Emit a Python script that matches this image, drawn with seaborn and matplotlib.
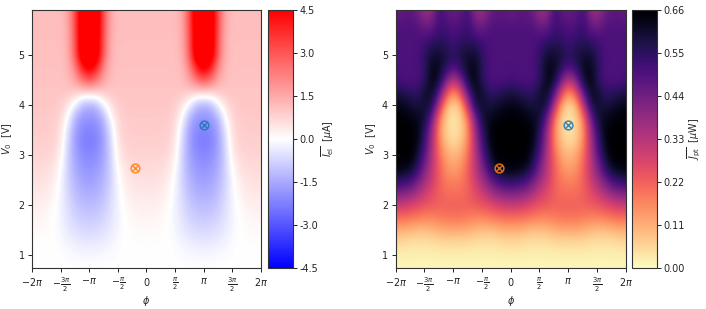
import numpy as np
import matplotlib
matplotlib.use("Agg")
import matplotlib.pyplot as plt
import seaborn as sns

sns.set_style("ticks")
plt.rcParams['font.family'] = ['DejaVu Sans']
plt.rcParams['mathtext.fontset'] = 'dejavusans'
plt.rcParams['axes.edgecolor'] = '#333333'
plt.rcParams['xtick.color'] = '#222222'
plt.rcParams['ytick.color'] = '#222222'
FS = 6.9

# grid coordinates (phi in units of pi/8, V0 in volts)
phi_values = [k * np.pi / 8 for k in range(-16, 17)]
v0_values = [0.75, 1.0, 1.25, 1.5, 1.75, 2.0, 2.25, 2.5, 2.75, 3.0, 3.25,
             3.5, 3.75, 4.0, 4.25, 4.5, 4.75, 5.0, 5.25, 5.5, 5.75, 6.0]

# mean electric current  [uA]  (rows follow v0_values, columns follow phi_values)
iel_grid = [
    [0, 0, 0, 0, 0, -.01, -.02, -.03, -.03, -.03, -.02, -.01, 0, 0, 0, 0, 0, 0, 0, 0, 0, -.01, -.02, -.03, -.03, -.03, -.02, -.01, 0, 0, 0, 0, 0],
    [.01, .01, .01, 0, -.03, -.07, -.10, -.14, -.15, -.14, -.10, -.07, -.03, 0, .01, .01, .01, .01, .01, 0, -.03, -.07, -.10, -.14, -.15, -.14, -.10, -.07, -.03, 0, .01, .01, .01],
    [.04, .04, .03, 0, -.08, -.20, -.30, -.38, -.40, -.38, -.30, -.20, -.08, 0, .03, .04, .04, .04, .03, 0, -.08, -.20, -.30, -.38, -.40, -.38, -.30, -.20, -.08, 0, .03, .04, .04],
    [.10, .10, .07, 0, -.15, -.38, -.55, -.65, -.70, -.65, -.55, -.38, -.15, 0, .07, .10, .10, .10, .07, 0, -.15, -.38, -.55, -.65, -.70, -.65, -.55, -.38, -.15, 0, .07, .10, .10],
    [.20, .20, .15, .02, -.20, -.50, -.75, -.90, -.95, -.90, -.75, -.50, -.20, .02, .15, .20, .20, .20, .15, .02, -.20, -.50, -.75, -.90, -.95, -.90, -.75, -.50, -.20, .02, .15, .20, .20],
    [.3, .3, .25, .1, -.2, -.6, -.95, -1.15, -1.2, -1.15, -.95, -.6, -.2, .1, .25, .3, .3, .3, .25, .1, -.2, -.6, -.95, -1.15, -1.2, -1.15, -.95, -.6, -.2, .1, .25, .3, .3],
    [.42, .42, .38, .2, -.15, -.7, -1.15, -1.4, -1.45, -1.4, -1.15, -.7, -.15, .2, .38, .42, .42, .42, .38, .2, -.15, -.7, -1.15, -1.4, -1.45, -1.4, -1.15, -.7, -.15, .2, .38, .42, .42],
    [.55, .55, .5, .35, -.1, -.8, -1.3, -1.6, -1.7, -1.6, -1.3, -.8, -.1, .35, .5, .55, .55, .55, .5, .35, -.1, -.8, -1.3, -1.6, -1.7, -1.6, -1.3, -.8, -.1, .35, .5, .55, .55],
    [.65, .65, .62, .5, .05, -.8, -1.5, -1.8, -1.9, -1.8, -1.5, -.8, .05, .5, .62, .65, .65, .65, .62, .5, .05, -.8, -1.5, -1.8, -1.9, -1.8, -1.5, -.8, .05, .5, .62, .65, .65],
    [.75, .75, .75, .65, .3, -.8, -1.6, -2.0, -2.1, -2.0, -1.6, -.8, .3, .65, .75, .75, .75, .75, .75, .65, .3, -.8, -1.6, -2.0, -2.1, -2.0, -1.6, -.8, .3, .65, .75, .75, .75],
    [.85, .85, .85, .8, .45, -.7, -1.7, -2.2, -2.3, -2.2, -1.7, -.7, .45, .8, .85, .85, .85, .85, .85, .8, .45, -.7, -1.7, -2.2, -2.3, -2.2, -1.7, -.7, .45, .8, .85, .85, .85],
    [.9, .9, .9, .85, .6, -.5, -1.6, -2.1, -2.2, -2.1, -1.6, -.5, .6, .85, .9, .9, .9, .9, .9, .85, .6, -.5, -1.6, -2.1, -2.2, -2.1, -1.6, -.5, .6, .85, .9, .9, .9],
    [.95, .95, .95, .9, .7, 0, -1.3, -1.8, -1.9, -1.8, -1.3, 0, .7, .9, .95, .95, .95, .95, .95, .9, .7, 0, -1.3, -1.8, -1.9, -1.8, -1.3, 0, .7, .9, .95, .95, .95],
    [1, 1, 1, 1, .9, .5, -.2, -1.2, -1.4, -1.2, -.2, .5, .9, 1, 1, 1, 1, 1, 1, 1, .9, .5, -.2, -1.2, -1.4, -1.2, -.2, .5, .9, 1, 1, 1, 1],
    [1, 1, 1, 1, 1, 1, .9, .75, .7, .75, .9, 1, 1, 1, 1, 1, 1, 1, 1, 1, 1, 1, .9, .75, .7, .75, .9, 1, 1, 1, 1, 1, 1],
    [1.05, 1.05, 1.05, 1.05, 1.05, 1.15, 1.6, 2.4, 3.0, 2.4, 1.6, 1.15, 1.05, 1.05, 1.05, 1.05, 1.05, 1.05, 1.05, 1.05, 1.05, 1.15, 1.6, 2.4, 3.0, 2.4, 1.6, 1.15, 1.05, 1.05, 1.05, 1.05, 1.05],
    [1.1, 1.1, 1.1, 1.1, 1.1, 1.25, 2.1, 4.0, 5.0, 4.0, 2.1, 1.25, 1.1, 1.1, 1.1, 1.1, 1.1, 1.1, 1.1, 1.1, 1.1, 1.25, 2.1, 4.0, 5.0, 4.0, 2.1, 1.25, 1.1, 1.1, 1.1, 1.1, 1.1],
    [1.1, 1.1, 1.1, 1.1, 1.1, 1.35, 2.8, 5.5, 6, 5.5, 2.8, 1.35, 1.1, 1.1, 1.1, 1.1, 1.1, 1.1, 1.1, 1.1, 1.1, 1.35, 2.8, 5.5, 6, 5.5, 2.8, 1.35, 1.1, 1.1, 1.1, 1.1, 1.1],
    [1.12, 1.12, 1.12, 1.12, 1.12, 1.4, 2.9, 5.5, 6, 5.5, 2.9, 1.4, 1.12, 1.12, 1.12, 1.12, 1.12, 1.12, 1.12, 1.12, 1.12, 1.4, 2.9, 5.5, 6, 5.5, 2.9, 1.4, 1.12, 1.12, 1.12, 1.12, 1.12],
    [1.15, 1.15, 1.15, 1.15, 1.15, 1.45, 3.0, 5.6, 6, 5.6, 3.0, 1.45, 1.15, 1.15, 1.15, 1.15, 1.15, 1.15, 1.15, 1.15, 1.15, 1.45, 3.0, 5.6, 6, 5.6, 3.0, 1.45, 1.15, 1.15, 1.15, 1.15, 1.15],
    [1.15, 1.15, 1.15, 1.15, 1.15, 1.5, 3.1, 5.6, 6, 5.6, 3.1, 1.5, 1.15, 1.15, 1.15, 1.15, 1.15, 1.15, 1.15, 1.15, 1.15, 1.5, 3.1, 5.6, 6, 5.6, 3.1, 1.5, 1.15, 1.15, 1.15, 1.15, 1.15],
    [1.15, 1.15, 1.15, 1.15, 1.15, 1.5, 3.1, 5.6, 6, 5.6, 3.1, 1.5, 1.15, 1.15, 1.15, 1.15, 1.15, 1.15, 1.15, 1.15, 1.15, 1.5, 3.1, 5.6, 6, 5.6, 3.1, 1.5, 1.15, 1.15, 1.15, 1.15, 1.15],
]

# mean pumped power  [uW]
jpt_grid = [
    [.01] * 33,
    [.02] * 33,
    [.05, .05, .04, .04, .04, .04, .05, .05, .05, .05, .05, .04, .04, .04, .04, .05, .05, .05, .04, .04, .04, .04, .05, .05, .05, .05, .05, .04, .04, .04, .04, .05, .05],
    [.11, .11, .10, .09, .09, .10, .11, .12, .12, .12, .11, .10, .09, .09, .10, .11, .11, .11, .10, .09, .09, .10, .11, .12, .12, .12, .11, .10, .09, .09, .10, .11, .11],
    [.20, .20, .19, .18, .17, .17, .18, .19, .19, .19, .18, .17, .17, .18, .19, .20, .20, .20, .19, .18, .17, .17, .18, .19, .19, .19, .18, .17, .17, .18, .19, .20, .20],
    [.30, .30, .28, .26, .24, .23, .22, .22, .22, .22, .22, .23, .24, .26, .28, .30, .30, .30, .28, .26, .24, .23, .22, .22, .22, .22, .22, .23, .24, .26, .28, .30, .30],
    [.43, .42, .40, .35, .30, .26, .22, .20, .20, .20, .22, .26, .30, .35, .40, .42, .43, .42, .40, .35, .30, .26, .22, .20, .20, .20, .22, .26, .30, .35, .40, .42, .43],
    [.56, .55, .52, .45, .37, .30, .22, .18, .17, .18, .22, .30, .37, .45, .52, .55, .56, .55, .52, .45, .37, .30, .22, .18, .17, .18, .22, .30, .37, .45, .52, .55, .56],
    [.65, .64, .62, .55, .42, .32, .22, .15, .13, .15, .22, .32, .42, .55, .62, .64, .65, .64, .62, .55, .42, .32, .22, .15, .13, .15, .22, .32, .42, .55, .62, .64, .65],
    [.66, .66, .66, .60, .48, .33, .20, .12, .10, .12, .20, .33, .48, .60, .66, .66, .66, .66, .66, .60, .48, .33, .20, .12, .10, .12, .20, .33, .48, .60, .66, .66, .66],
    [.66, .66, .66, .63, .52, .35, .17, .08, .05, .08, .17, .35, .52, .63, .66, .66, .66, .66, .66, .63, .52, .35, .17, .08, .05, .08, .17, .35, .52, .63, .66, .66, .66],
    [.66, .66, .66, .64, .55, .38, .15, .06, .03, .06, .15, .38, .55, .64, .66, .66, .66, .66, .66, .64, .55, .38, .15, .06, .03, .06, .15, .38, .55, .64, .66, .66, .66],
    [.66, .65, .64, .62, .60, .45, .19, .06, .03, .06, .19, .45, .60, .62, .64, .65, .66, .65, .64, .62, .60, .45, .19, .06, .03, .06, .19, .45, .60, .62, .64, .65, .66],
    [.63, .62, .60, .58, .60, .58, .33, .11, .05, .11, .33, .58, .60, .58, .60, .62, .63, .62, .60, .58, .60, .58, .33, .11, .05, .11, .33, .58, .60, .58, .60, .62, .63],
    [.58, .57, .55, .55, .60, .62, .48, .25, .15, .25, .48, .62, .60, .55, .55, .57, .58, .57, .55, .55, .60, .62, .48, .25, .15, .25, .48, .62, .60, .55, .55, .57, .58],
    [.52, .50, .50, .50, .55, .64, .60, .43, .32, .43, .60, .64, .55, .50, .50, .50, .52, .50, .50, .50, .55, .64, .60, .43, .32, .43, .60, .64, .55, .50, .50, .50, .52],
    [.50, .50, .50, .50, .55, .63, .62, .55, .50, .55, .62, .63, .55, .50, .50, .50, .50, .50, .50, .50, .55, .63, .62, .55, .50, .55, .62, .63, .55, .50, .50, .50, .50],
    [.50, .50, .50, .50, .55, .60, .60, .58, .55, .58, .60, .60, .55, .50, .50, .50, .50, .50, .50, .50, .55, .60, .60, .58, .55, .58, .60, .60, .55, .50, .50, .50, .50],
    [.50, .50, .50, .50, .52, .55, .56, .55, .52, .55, .56, .55, .52, .50, .50, .50, .50, .50, .50, .50, .52, .55, .56, .55, .52, .55, .56, .55, .52, .50, .50, .50, .50],
    [.50, .50, .50, .50, .47, .48, .53, .52, .50, .52, .53, .48, .47, .50, .50, .50, .50, .50, .50, .50, .47, .48, .53, .52, .50, .52, .53, .48, .47, .50, .50, .50, .50],
    [.47, .48, .48, .46, .40, .42, .52, .48, .47, .48, .52, .42, .40, .46, .48, .48, .47, .48, .48, .46, .40, .42, .52, .48, .47, .48, .52, .42, .40, .46, .48, .48, .47],
    [.45, .47, .48, .44, .36, .38, .52, .47, .45, .47, .52, .38, .36, .44, .48, .47, .45, .47, .48, .44, .36, .38, .52, .47, .45, .47, .52, .38, .36, .44, .48, .47, .45],
]

# operating points
point_phi = [-0.62, np.pi]
point_v0 = [2.75, 3.6]

xtick_vals = [k * np.pi / 2 for k in range(-4, 5)]
xtick_labels = [r'$-2\pi$', r'$-\frac{3\pi}{2}$', r'$-\pi$', r'$-\frac{\pi}{2}$', r'$0$',
                r'$\frac{\pi}{2}$', r'$\pi$', r'$\frac{3\pi}{2}$', r'$2\pi$']
iel_ticks = [-4.5, -3.0, -1.5, 0.0, 1.5, 3.0, 4.5]
jpt_ticks = [0.0, 0.11, 0.22, 0.33, 0.44, 0.55, 0.66]

W, H = 706, 309
fig = plt.figure(figsize=(W / 100, H / 100), dpi=100)

def frac(x0, x1, y0, y1):
    return [x0 / W, 1 - y1 / H, (x1 - x0) / W, (y1 - y0) / H]

ax1 = fig.add_axes(frac(32.3, 260.7, 10, 268))
cax1 = fig.add_axes(frac(268, 292.5, 10, 268))
ax2 = fig.add_axes(frac(395.7, 625.7, 10, 268))
cax2 = fig.add_axes(frac(632, 656.5, 10, 268))

dphi = phi_values[1] - phi_values[0]
dv = v0_values[1] - v0_values[0]
extent = [phi_values[0] - dphi / 2, phi_values[-1] + dphi / 2,
          v0_values[0] - dv / 2, v0_values[-1] + dv / 2]

cmap1 = sns.color_palette("bwr", as_cmap=True)
cmap2 = sns.color_palette("magma_r", as_cmap=True)
pal = sns.color_palette("tab10")
pt_colors = [pal[1], pal[0]]

panels = [
    (ax1, cax1, iel_grid, cmap1, -4.5, 4.5, iel_ticks, r'$\overline{I_{\rm el}}$  [$\mu$A]', '%.1f'),
    (ax2, cax2, jpt_grid, cmap2, 0.0, 0.66, jpt_ticks, r'$\overline{J_{\rm pt}}$  [$\mu$W]', '%.2f'),
]

for ax, cax, grid, cmap, vmin, vmax, cticks, clabel, fmt in panels:
    im = ax.imshow(np.array(grid), origin='lower', extent=extent, aspect='auto',
                   cmap=cmap, vmin=vmin, vmax=vmax, interpolation='bicubic',
                   interpolation_stage='data')
    ax.set_xlim(-2 * np.pi, 2 * np.pi)
    ax.set_ylim(0.74, 5.9)
    ax.set_xticks(xtick_vals)
    ax.set_xticklabels(xtick_labels, fontsize=FS)
    ax.set_yticks([1, 2, 3, 4, 5])
    ax.tick_params(axis='y', labelsize=FS, length=3, width=0.7, pad=2.5)
    ax.tick_params(axis='x', length=3, width=0.7, pad=2.5)
    ax.set_xlabel(r'$\phi$', fontsize=FS, labelpad=0)
    ax.set_ylabel(r'$V_0$  [V]', fontsize=FS, labelpad=3)
    for sp in ax.spines.values():
        sp.set_linewidth(0.8)
    for phi, v, c in zip(point_phi, point_v0, pt_colors):
        ax.plot([phi], [v], marker='o', ms=6.3, mfc='none', mec=c, mew=1.1, alpha=0.85, ls='none')
        ax.plot([phi], [v], marker='x', ms=3.8, mec=c, mew=1.0, alpha=0.85, ls='none')
    cb = fig.colorbar(im, cax=cax, ticks=cticks)
    cb.ax.set_yticklabels([fmt % t for t in cticks])
    cb.ax.tick_params(labelsize=FS, length=3, width=0.7, pad=2)
    cb.outline.set_linewidth(0.8)
    cb.set_label(clabel, fontsize=FS, labelpad=1)

fig.savefig('out.png', dpi=100)
